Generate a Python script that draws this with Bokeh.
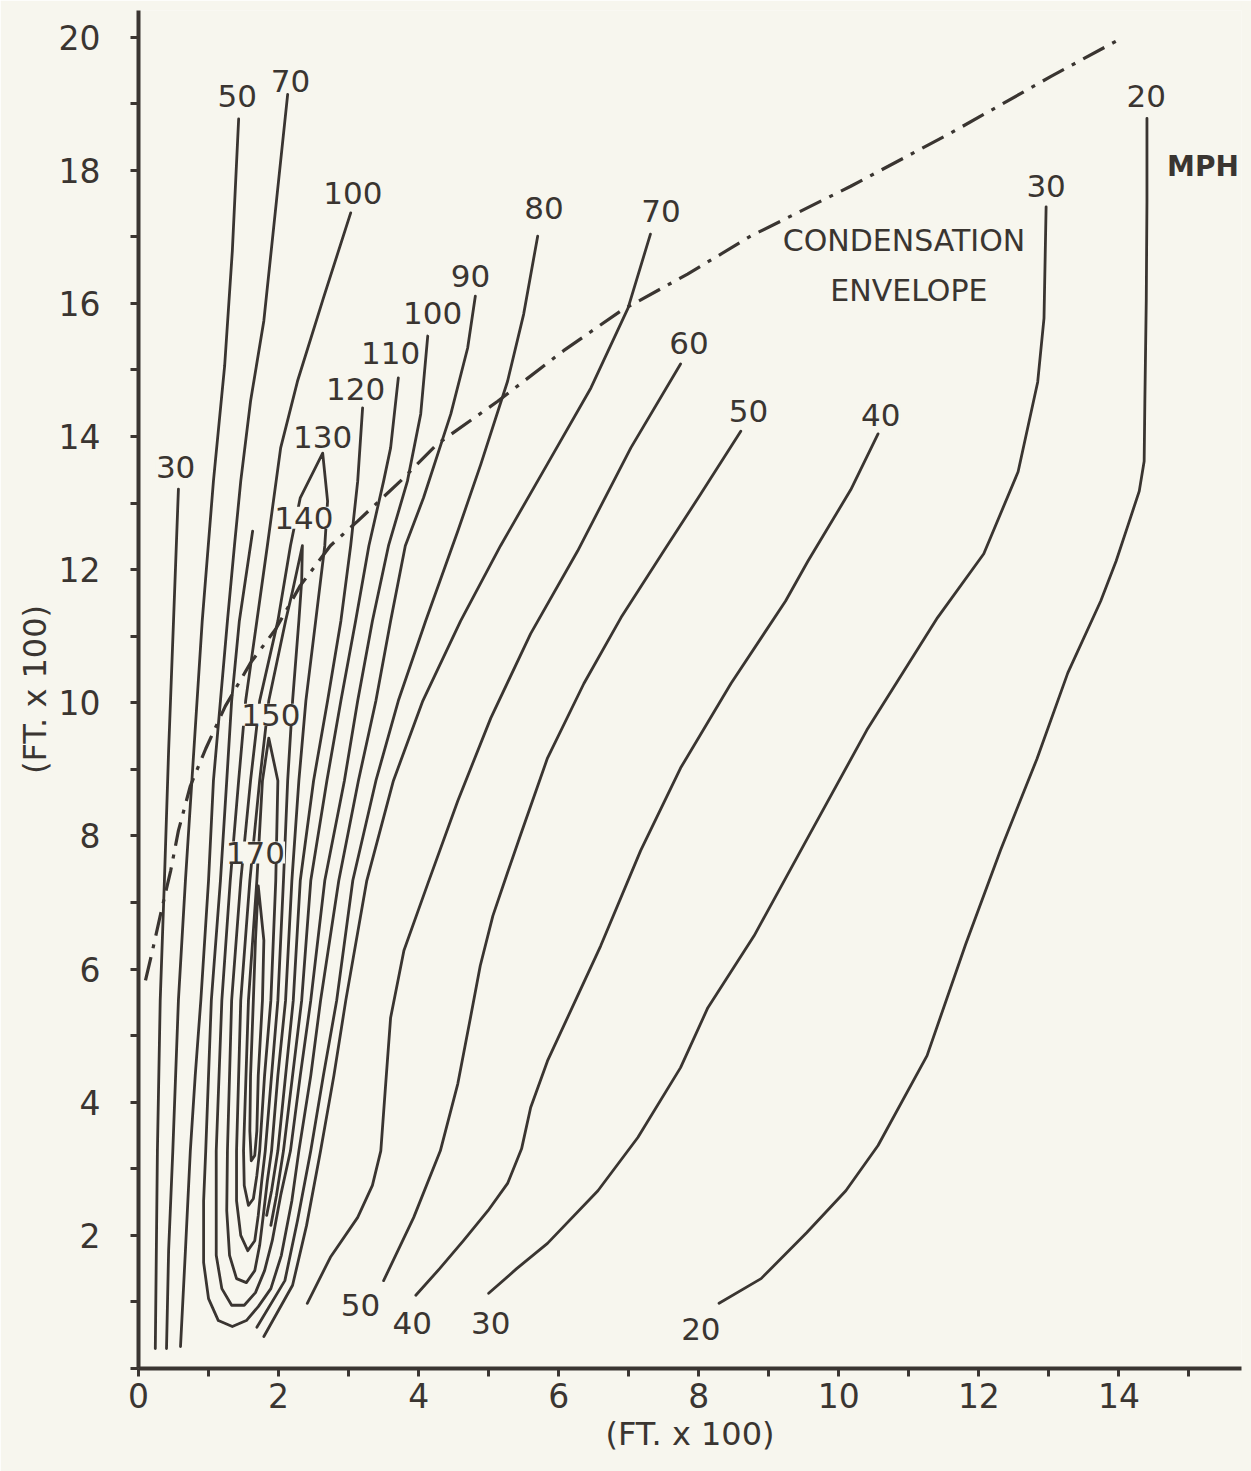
from bokeh.plotting import figure
from bokeh.models import Range1d, FixedTicker, ColumnDataSource, LabelSet, Label
from bokeh.core.properties import value
from bokeh.embed import file_html
from bokeh.resources import INLINE

BG = "#f7f6ee"
INK = "#3a3531"
FONT = "DejaVu Sans"

# ---------------- data (radius, height in ft x 100) ----------------
x_major = [0, 2, 4, 6, 8, 10, 12, 14]
x_minor = [1, 3, 5, 7, 9, 11, 13, 15]
y_major = [0, 2, 4, 6, 8, 10, 12, 14, 16, 18, 20]
y_minor = [1, 3, 5, 7, 9, 11, 13, 15, 17, 19]

c30_inner_x = [0.57, 0.50, 0.43, 0.37, 0.31, 0.27, 0.24]
c30_inner_y = [13.21, 11.23, 9.28, 7.33, 5.53, 3.27, 0.30]

c50_inner_x = [1.43, 1.34, 1.23, 1.07, 0.91, 0.79, 0.67, 0.57, 0.49, 0.43, 0.40]
c50_inner_y = [18.77, 16.79, 15.06, 13.33, 11.23, 9.28, 7.33, 5.53, 3.27, 1.77, 0.30]

c70_inner_x = [2.13, 1.97, 1.79, 1.60, 1.46, 1.37, 1.27, 1.17, 1.07, 1.00, 0.89, 0.81, 0.74, 0.67, 0.60]
c70_inner_y = [19.14, 17.54, 15.74, 14.53, 13.33, 12.36, 11.23, 10.03, 8.83, 7.33, 5.53, 4.40, 3.27, 1.77, 0.33]

u90_x = [1.63, 1.44, 1.33, 1.26, 1.17, 1.04, 0.96, 0.93, 0.93, 1.00, 1.14, 1.34, 1.54, 1.71, 1.89,
         2.04, 2.19, 2.29, 2.46, 2.60, 2.86, 3.14, 3.39, 3.60, 3.81, 4.07, 4.46, 4.70, 4.81]
u90_y = [12.58, 11.23, 10.03, 8.83, 7.33, 5.53, 3.27, 2.52, 1.59, 1.05, 0.72, 0.63, 0.72, 0.93, 1.20,
         1.70, 2.52, 3.27, 4.40, 5.53, 7.33, 8.83, 10.03, 11.23, 12.36, 13.08, 14.34, 15.33, 16.11]

u100_x = [3.03, 2.64, 2.27, 2.03, 1.84, 1.69, 1.53, 1.43, 1.31, 1.19, 1.11, 1.11, 1.11, 1.19, 1.33, 1.51,
          1.67, 1.80, 1.91, 2.03, 2.17, 2.31, 2.46, 2.66, 2.94, 3.13, 3.34, 3.57, 3.84, 4.03, 4.13]
u100_y = [17.36, 16.08, 14.83, 13.83, 12.36, 11.23, 10.03, 8.83, 7.33, 5.53, 3.27, 2.52, 1.70, 1.20, 0.95, 0.95,
          1.14, 1.47, 1.92, 2.60, 3.27, 4.40, 5.53, 7.33, 8.83, 10.03, 11.23, 12.36, 13.33, 14.34, 15.51]

c110_x = [3.71, 3.60, 3.50, 3.29, 3.10, 2.89, 2.69, 2.46, 2.33, 2.20, 2.07, 1.97, 1.89]
c110_y = [14.88, 13.83, 13.33, 12.36, 11.23, 10.03, 8.83, 7.33, 5.53, 4.40, 3.27, 2.60, 2.15]

c120_x = [3.20, 3.13, 3.03, 2.89, 2.70, 2.50, 2.31, 2.21, 2.10, 1.99, 1.90, 1.83]
c120_y = [14.43, 13.33, 12.36, 11.23, 10.03, 8.83, 7.33, 5.53, 4.40, 3.27, 2.67, 2.30]

l130_x = [2.63, 2.31, 2.17, 1.99, 1.73, 1.60, 1.46, 1.33, 1.27, 1.26, 1.30, 1.40, 1.54, 1.66,
          1.73, 1.79, 1.84, 1.90, 1.99, 2.10, 2.19, 2.29, 2.39, 2.53, 2.66, 2.70, 2.63]
l130_y = [13.75, 13.08, 12.36, 11.23, 10.03, 8.83, 7.33, 5.53, 3.27, 2.37, 1.70, 1.35, 1.29, 1.47,
          1.85, 2.37, 2.82, 3.27, 4.40, 5.53, 7.33, 8.83, 10.03, 11.23, 12.36, 13.03, 13.75]

l140_x = [2.34, 2.20, 2.10, 1.86, 1.73, 1.59, 1.46, 1.40, 1.40, 1.46, 1.56, 1.66,
          1.71, 1.76, 1.81, 1.90, 1.99, 2.07, 2.13, 2.20, 2.29, 2.33, 2.34]
l140_y = [12.36, 11.68, 11.23, 10.03, 8.83, 7.33, 5.53, 3.27, 2.52, 2.00, 1.77, 1.92,
          2.30, 2.82, 3.27, 4.40, 5.53, 7.33, 8.83, 10.03, 11.23, 11.83, 12.36]

l150_x = [1.86, 1.77, 1.69, 1.57, 1.50, 1.51, 1.57, 1.64, 1.69, 1.73, 1.80, 1.89, 1.96, 1.99, 1.86]
l150_y = [9.47, 8.83, 7.33, 5.53, 3.27, 2.75, 2.45, 2.55, 2.90, 3.27, 4.40, 5.53, 7.33, 8.83, 9.47]

l170_x = [1.71, 1.67, 1.64, 1.60, 1.59, 1.61, 1.66, 1.69, 1.71, 1.77, 1.79, 1.71]
l170_y = [7.25, 6.43, 5.53, 4.40, 3.57, 3.12, 3.20, 3.57, 4.40, 5.53, 6.43, 7.25]

c80_x = [5.70, 5.50, 5.27, 4.89, 4.56, 4.10, 3.71, 3.39, 3.06, 2.83, 2.64, 2.46, 2.27, 2.09, 1.69]
c80_y = [17.01, 15.84, 14.83, 13.59, 12.58, 11.23, 10.03, 8.83, 7.33, 5.53, 4.40, 3.27, 2.22, 1.32, 0.62]

c70_x = [7.31, 6.99, 6.46, 5.84, 5.17, 4.60, 4.06, 3.64, 3.26, 2.96, 2.79, 2.60, 2.40, 2.20, 1.79]
c70_y = [17.04, 15.93, 14.73, 13.59, 12.36, 11.23, 10.03, 8.83, 7.33, 5.53, 4.40, 3.27, 2.15, 1.25, 0.48]

c60_x = [7.74, 7.03, 6.27, 5.60, 5.03, 4.56, 4.13, 3.79, 3.60, 3.53, 3.46, 3.34, 3.13, 2.74, 2.41]
c60_y = [15.09, 13.83, 12.28, 11.04, 9.77, 8.53, 7.28, 6.28, 5.27, 4.28, 3.27, 2.75, 2.27, 1.67, 0.98]

c50_x = [3.50, 3.93, 4.31, 4.56, 4.74, 4.88, 5.06, 5.27, 5.46, 5.84, 6.36, 6.89, 7.50, 8.03, 8.60]
c50_y = [1.32, 2.27, 3.27, 4.28, 5.27, 6.05, 6.80, 7.45, 8.03, 9.17, 10.29, 11.28, 12.28, 13.14, 14.08]

c40_x = [3.96, 4.30, 4.64, 4.99, 5.27, 5.47, 5.60, 5.84, 6.24, 6.60, 7.17, 7.74, 8.46, 9.24, 9.56, 10.17, 10.56]
c40_y = [1.10, 1.50, 1.92, 2.37, 2.78, 3.30, 3.92, 4.62, 5.53, 6.35, 7.78, 9.02, 10.29, 11.53, 12.13, 13.20, 14.04]

c30_x = [5.00, 5.40, 5.84, 6.56, 7.13, 7.74, 8.13, 8.79, 9.54, 10.40, 11.41, 12.07, 12.56, 12.84, 12.93, 12.96]
c30_y = [1.13, 1.50, 1.88, 2.67, 3.47, 4.52, 5.42, 6.50, 7.94, 9.59, 11.28, 12.24, 13.47, 14.82, 15.78, 17.45]

c20_x = [8.29, 8.89, 9.54, 10.10, 10.56, 11.26, 11.81, 12.31, 12.83, 13.27, 13.74, 13.96, 14.13, 14.29, 14.36,
         14.37, 14.39, 14.40, 14.40]
c20_y = [0.98, 1.35, 2.04, 2.67, 3.35, 4.70, 6.37, 7.79, 9.16, 10.45, 11.53, 12.13, 12.67, 13.18, 13.63,
         14.53, 16.04, 17.54, 18.78]

envelope_x = [0.10, 0.20, 0.31, 0.46, 0.57, 0.74, 0.96, 1.24, 1.60, 1.96, 2.31, 2.74, 3.13, 3.74,
              4.27, 5.13, 6.07, 6.89, 7.84, 8.74, 10.17, 11.60, 13.03, 13.96]
envelope_y = [5.83, 6.28, 6.80, 7.48, 8.08, 8.75, 9.31, 9.95, 10.60, 11.11, 11.76, 12.36, 12.73, 13.33,
              13.89, 14.53, 15.29, 15.89, 16.44, 17.01, 17.76, 18.56, 19.41, 19.94]

label_text = ["30", "50", "70", "100", "130", "140", "150", "170", "120", "110", "100", "90",
              "80", "70", "60", "50", "40", "30", "20", "50", "40", "30", "20"]
label_x = [0.53, 1.41, 2.17, 3.06, 2.63, 2.36, 1.89, 1.67, 3.10, 3.60, 4.20, 4.74,
           5.79, 7.46, 7.86, 8.71, 10.60, 12.96, 14.39, 3.17, 3.91, 5.03, 8.03]
label_y = [13.54, 19.11, 19.34, 17.66, 13.99, 12.78, 9.82, 7.75, 14.71, 15.26, 15.86, 16.41,
           17.43, 17.39, 15.41, 14.38, 14.32, 17.76, 19.11, 0.95, 0.69, 0.69, 0.60]

# ---------------- figure ----------------
p = figure(width=1251, height=1471, x_range=Range1d(0, 15.75), y_range=Range1d(0, 20.4),
           output_backend="svg", toolbar_location=None,
           min_border_left=138, min_border_right=10, min_border_top=10, min_border_bottom=103)
p.background_fill_color = BG
p.border_fill_color = BG
p.outline_line_color = None
p.grid.visible = False

p.xaxis.ticker = FixedTicker(ticks=x_major, minor_ticks=x_minor)
p.yaxis.ticker = FixedTicker(ticks=y_major, minor_ticks=y_minor)
p.yaxis.major_label_overrides = {0: ""}
for ax in (p.xaxis[0], p.yaxis[0]):
    ax.axis_line_width = 4
    ax.axis_line_color = INK
    ax.major_tick_line_color = INK
    ax.minor_tick_line_color = INK
    ax.major_tick_line_width = 3
    ax.minor_tick_line_width = 3
    ax.major_tick_in = 0
    ax.minor_tick_in = 0
    ax.major_tick_out = 8
    ax.minor_tick_out = 8
    ax.major_label_text_font = FONT
    ax.major_label_text_font_size = "33px"
    ax.major_label_text_color = INK
    ax.axis_label = "(FT. x 100)"
    ax.axis_label_text_font = FONT
    ax.axis_label_text_font_size = "32px"
    ax.axis_label_text_font_style = "normal"
    ax.axis_label_text_color = INK
p.xaxis.major_label_standoff = 6
p.xaxis.axis_label_standoff = 4
p.yaxis.major_label_standoff = 30
p.yaxis.axis_label_standoff = 2

xs = [c30_inner_x, c50_inner_x, c70_inner_x, u90_x, u100_x, c110_x, c120_x, l130_x, l140_x,
      l150_x, l170_x, c80_x, c70_x, c60_x, c50_x, c40_x, c30_x, c20_x]
ys = [c30_inner_y, c50_inner_y, c70_inner_y, u90_y, u100_y, c110_y, c120_y, l130_y, l140_y,
      l150_y, l170_y, c80_y, c70_y, c60_y, c50_y, c40_y, c30_y, c20_y]
p.multi_line(xs=xs, ys=ys, line_color=INK, line_width=2.8, line_join="round", line_cap="round")

p.line(envelope_x, envelope_y, line_color=INK, line_width=3.2, line_dash="24 9 4 9")

src = ColumnDataSource(dict(x=label_x, y=label_y, text=label_text))
p.add_layout(LabelSet(x="x", y="y", text="text", source=src, text_align="center",
                      text_baseline="middle", text_font=value(FONT), text_font_size=value("31px"),
                      text_color=INK, background_fill_color=BG))

p.add_layout(Label(x=10.93, y=16.94, text="CONDENSATION", text_align="center", text_baseline="middle",
                   text_font=FONT, text_font_size="30px", text_color=INK))
p.add_layout(Label(x=11.0, y=16.19, text="ENVELOPE", text_align="center", text_baseline="middle",
                   text_font=FONT, text_font_size="30px", text_color=INK))
p.add_layout(Label(x=15.2, y=18.06, text="MPH", text_align="center", text_baseline="middle",
                   text_font=FONT, text_font_size="28px", text_font_style="bold", text_color=INK))

open("out.html", "w").write(file_html(p, INLINE))
